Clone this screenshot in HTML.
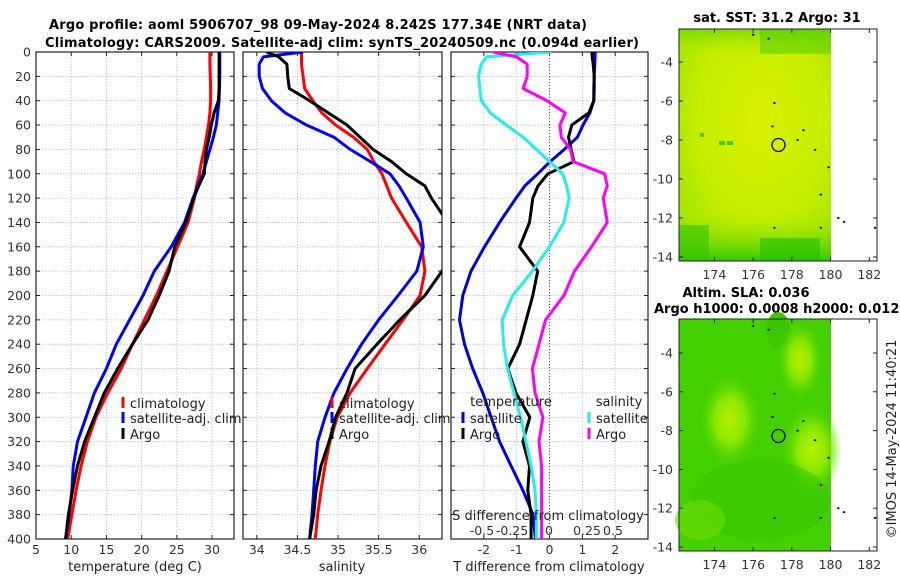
<!DOCTYPE html>
<html><head><meta charset="utf-8">
<style>
html,body{margin:0;padding:0;background:#fff;}
svg{display:block;font-family:"DejaVu Sans","Liberation Sans",sans-serif;}
.tick{font-size:12.5px;fill:#333;}
</style></head>
<body>
<svg id="chart" width="900" height="580" viewBox="0 0 900 580" xmlns="http://www.w3.org/2000/svg">
<defs>
<clipPath id="c1"><rect x="36" y="52" width="198" height="487"/></clipPath>
<clipPath id="c2"><rect x="243" y="52" width="199" height="487"/></clipPath>
<clipPath id="c3"><rect x="451" y="52" width="197" height="487"/></clipPath>
<radialGradient id="sstg" cx="0.55" cy="0.4" r="0.7">
<stop offset="0" stop-color="#d8f000"/><stop offset="0.6" stop-color="#c6ee00"/><stop offset="1" stop-color="#9ee400"/>
</radialGradient>
<linearGradient id="sstb" x1="0" y1="0" x2="0" y2="1">
<stop offset="0" stop-color="#6cd800" stop-opacity="0.8"/><stop offset="0.12" stop-color="#b8ec00" stop-opacity="0"/>
<stop offset="0.78" stop-color="#b8ec00" stop-opacity="0"/><stop offset="1" stop-color="#2cc800" stop-opacity="0.95"/>
</linearGradient>
<radialGradient id="sla1" cx="0.5" cy="0.5" r="0.5"><stop offset="0" stop-color="#b8f000"/><stop offset="0.5" stop-color="#8ae800"/><stop offset="1" stop-color="#5ad800" stop-opacity="0"/></radialGradient>
</defs>

<text x="318" y="29" text-anchor="middle" font-weight="bold" font-size="13" textLength="538">Argo profile: aoml 5906707_98 09-May-2024 8.242S 177.34E (NRT data)</text>
<text x="342" y="47" text-anchor="middle" font-weight="bold" font-size="13" textLength="594">Climatology: CARS2009. Satellite-adj clim: synTS_20240509.nc (0.094d earlier)</text>

<g id="panels"></g>

<g>
<text x="777" y="22" text-anchor="middle" font-weight="bold" font-size="13">sat. SST: 31.2 Argo: 31</text>
<rect x="679" y="29" width="152" height="232" fill="url(#sstg)"/>
<rect x="679" y="29" width="152" height="232" fill="url(#sstb)"/>
<rect x="679" y="225" width="30" height="36" fill="#34c400" opacity="0.6"/>
<rect x="760" y="238" width="60" height="23" fill="#22c000" opacity="0.6"/>
<rect x="760" y="29" width="71" height="25" fill="#4ccc00" opacity="0.5"/>
<rect x="719" y="141" width="6" height="4" fill="#44cc00"/><rect x="727" y="141" width="6" height="4" fill="#44cc00"/><rect x="700" y="133" width="4" height="4" fill="#44cc00"/>
<rect x="679" y="29" width="198" height="232" fill="none" stroke="#222" stroke-width="1"/>
<circle cx="778.5" cy="145" r="6.5" fill="none" stroke="#000" stroke-width="1.3"/>
<g id="islands1"></g>
</g>
<g>
<text x="746" y="297" text-anchor="middle" font-weight="bold" font-size="13">Altim. SLA: 0.036</text>
<text x="654" y="313" font-weight="bold" font-size="13">Argo h1000: 0.0008 h2000: 0.012</text>
<rect x="679" y="319" width="152" height="232" fill="#44d000"/>
<ellipse cx="778" cy="330" rx="12" ry="18" fill="#3cc800"/>
<ellipse cx="730" cy="420" rx="30" ry="45" fill="url(#sla1)"/>
<ellipse cx="800" cy="360" rx="22" ry="38" fill="url(#sla1)"/>
<ellipse cx="812" cy="450" rx="30" ry="45" fill="url(#sla1)"/>
<ellipse cx="760" cy="500" rx="70" ry="40" fill="#34c400" opacity="0.5"/>
<ellipse cx="700" cy="520" rx="25" ry="20" fill="#6cdc00" opacity="0.6"/>
<rect x="679" y="319" width="198" height="232" fill="none" stroke="#222" stroke-width="1"/>
<circle cx="778.5" cy="436" r="6.5" fill="none" stroke="#000" stroke-width="1.3"/>
<g id="islands2"></g>
</g>
<text transform="translate(896,439) rotate(-90)" text-anchor="middle" font-size="13" fill="#222">©IMOS 14-May-2024 11:40:21</text>
</svg>
<script>
const depths = [0,4,10,20,30,40,50,60,70,80,90,100,110,120,140,160,180,200,220,240,260,280,300,320,340,360,380,400];
const tempClim = [29.7,29.7,29.7,29.75,29.8,29.8,29.7,29.5,29.2,28.9,28.5,28.2,27.8,27.5,26.6,25.1,23.6,22.1,20.4,18.7,17.1,15.2,13.5,12.3,11.4,10.7,10.1,9.5];
const tempSat = [31.1,31.1,31.1,31.1,31.05,31.0,30.8,30.6,30.2,29.7,29.2,28.7,28.0,27.3,26.1,24.2,21.8,20.2,18.3,16.4,15.0,13.3,12.1,10.9,10.3,10.1,9.7,9.2];
const tempArgo = [31.0,31.0,31.0,31.0,31.0,30.9,30.3,29.9,29.6,29.2,29.0,28.9,28.1,27.4,26.3,24.7,23.9,22.5,20.9,18.7,16.6,14.7,13.3,11.9,10.9,10.2,9.6,9.2];
const salClim = [34.55,34.55,34.55,34.57,34.59,34.69,34.8,34.97,35.19,35.36,35.44,35.54,35.6,35.66,35.84,36.03,36.07,36.01,35.8,35.58,35.36,35.15,34.99,34.9,34.84,34.79,34.75,34.72];
const salSat = [34.57,34.08,34.03,34.03,34.07,34.18,34.35,34.61,34.95,35.15,35.4,35.64,35.75,35.84,36.01,36.05,35.97,35.74,35.5,35.29,35.11,34.95,34.84,34.75,34.72,34.7,34.68,34.65];
const salArgo = [34.12,34.27,34.37,34.38,34.4,34.65,34.88,35.11,35.27,35.43,35.66,35.84,36.07,36.15,36.35,36.45,36.28,36.07,35.76,35.48,35.21,35.11,34.97,34.89,34.79,34.73,34.7,34.65];
const tDiffSat = [1.39,1.39,1.38,1.36,1.35,1.35,1.23,1.02,0.85,0.45,0.02,-0.36,-0.75,-1.02,-1.52,-1.98,-2.39,-2.64,-2.74,-2.59,-2.34,-2.03,-1.78,-1.52,-1.17,-0.81,-0.5,-0.43];
const tDiffArgo = [1.29,1.3,1.33,1.36,1.36,1.35,1.2,0.68,0.58,0.66,0.74,-0.05,-0.35,-0.51,-0.61,-0.91,-0.36,-0.51,-0.71,-0.91,-1.27,-1.02,-0.6,-0.81,-0.61,-0.66,-0.56,-0.56];
const sDiffSat = [0.02,-0.48,-0.52,-0.54,-0.53,-0.52,-0.45,-0.33,-0.2,-0.1,0.0,0.1,0.13,0.15,0.11,0.0,-0.13,-0.28,-0.36,-0.35,-0.32,-0.27,-0.22,-0.18,-0.14,-0.11,-0.1,-0.1];
const sDiffArgo = [-0.43,-0.25,-0.17,-0.17,-0.2,-0.02,0.12,0.08,0.09,0.16,0.18,0.42,0.44,0.41,0.44,0.32,0.19,0.11,-0.03,-0.08,-0.13,-0.11,-0.05,-0.08,-0.06,-0.06,-0.06,-0.06];
const depthTicks = [0,20,40,60,80,100,120,140,160,180,200,220,240,260,280,300,320,340,360,380,400];
const tempTicks = [5,10,15,20,25,30];
const salTicks = [34,34.5,35,35.5,36];
const diffTicks = [-2,-1,0,1,2];
const sDiffTicks = [-0.5,-0.25,0,0.25,0.5];
const latTicks = [-4,-6,-8,-10,-12,-14];
const lonTicks = [174,176,178,180,182];

const NS='http://www.w3.org/2000/svg';
const root=document.getElementById('panels');
function mk(tag,attrs,parent){const e=document.createElementNS(NS,tag);for(const k in attrs)e.setAttribute(k,attrs[k]);(parent||root).appendChild(e);return e;}
const yTop=52, yBot=539;
function yD(d){return yTop+(d/400)*(yBot-yTop);}
function linScale(d0,d1,r0,r1){return v=>r0+(v-d0)/(d1-d0)*(r1-r0);}
const xT=linScale(5,33.12,36,234);
const xS=linScale(33.83,36.28,243,442);
const xDT=linScale(-3,3,451,648);
const xDS=linScale(-0.75,0.75,451,648);

function frame(x0,x1,ticks,xf,name){
  const g=mk('g',{});
  
  
  for(const t of ticks){const x=xf(t);mk('line',{x1:x,x2:x,y1:yTop,y2:yBot,stroke:'#b8bde8','stroke-width':0.8,'stroke-dasharray':'1.5,1.5'},g);}
  for(const d of depthTicks){const y=yD(d);mk('line',{x1:x0,x2:x1,y1:y,y2:y,stroke:'#b8bde8','stroke-width':0.8,'stroke-dasharray':'1.5,1.5'},g);
    mk('line',{x1:x0,x2:x0+4,y1:y,y2:y,stroke:'#222'},g);mk('line',{x1:x1-4,x2:x1,y1:y,y2:y,stroke:'#222'},g);}
  for(const t of ticks){const x=xf(t);mk('line',{x1:x,x2:x,y1:yBot,y2:yBot-4,stroke:'#222'},g);mk('line',{x1:x,x2:x,y1:yTop,y2:yTop+4,stroke:'#222'},g);}
  mk('rect',{x:x0,y:yTop,width:x1-x0,height:yBot-yTop,fill:'none',stroke:'#222','stroke-width':1.2},g);
  return g;
}
function series(vals,xf,color,clip,name,w){
  let d='';
  for(let i=0;i<depths.length;i++){d+=(i?'L':'M')+xf(vals[i]).toFixed(1)+','+yD(depths[i]).toFixed(1);}
  const p=mk('path',{d:d,fill:'none',stroke:color,'stroke-width':w||3,'stroke-linejoin':'round','clip-path':'url(#'+clip+')'});
  
  
}
function xLabels(ticks,xf,y,fmt,nm){
  for(const t of ticks){const e=mk('text',{x:xf(t),y:y,'text-anchor':'middle',class:'tick'});e.textContent=fmt?fmt(t):String(t);
    
    }
}
function txt(s,x,y,anchor,name,size,color){const e=mk('text',{x:x,y:y,'text-anchor':anchor||'start','font-size':size||13,fill:color||'#222'});e.textContent=s;
  
  return e;}
function legendMark(x,y,color,nm){const r=mk('rect',{x:x-1.5,y:y-6,width:3,height:11,fill:color});
  
  }

frame(36,234,tempTicks,xT,'temperature-panel');
for(const d of depthTicks){const e=mk('text',{x:31,y:yD(d)+4.5,'text-anchor':'end',class:'tick'});e.textContent=d;
  
  }
series(tempClim,xT,'#ff0000','c1','temp-climatology-line');
series(tempSat,xT,'#0000ff','c1','temp-satellite-line');
series(tempArgo,xT,'#000000','c1','temp-argo-line');
xLabels(tempTicks,xT,554,null,'temp-tick-label');
txt('temperature (deg C)',135,571,'middle','temp-axis-title');
legendMark(123,403,'#ff0000','legend-climatology-marker');txt('climatology',130,408,'start','legend-climatology');
legendMark(123,418,'#0000ff','legend-satellite-marker');txt('satellite-adj. clim',130,423,'start','legend-satellite');
legendMark(123,434,'#000000','legend-argo-marker');txt('Argo',130,439,'start','legend-argo');

frame(243,442,salTicks,xS,'salinity-panel');
series(salClim,xS,'#ff0000','c2','sal-climatology-line');
series(salSat,xS,'#0000ff','c2','sal-satellite-line');
series(salArgo,xS,'#000000','c2','sal-argo-line');
xLabels(salTicks,xS,554,null,'sal-tick-label');
txt('salinity',342,571,'middle','sal-axis-title');
legendMark(332,403,'#ff0000','legend2-climatology-marker');txt('climatology',339,408,'start','legend2-climatology');
legendMark(332,418,'#0000ff','legend2-satellite-marker');txt('satellite-adj. clim',339,423,'start','legend2-satellite');
legendMark(332,434,'#000000','legend2-argo-marker');txt('Argo',339,439,'start','legend2-argo');

frame(451,648,diffTicks,xDT,'difference-panel');
mk('line',{x1:xDT(0),x2:xDT(0),y1:yTop,y2:yBot,stroke:'#555','stroke-width':1,'stroke-dasharray':'1,2'});
series(tDiffSat,xDT,'#0000e0','c3','tdiff-satellite-line');
series(tDiffArgo,xDT,'#000000','c3','tdiff-argo-line');
series(sDiffSat,xDS,'#22eeee','c3','sdiff-satellite-line');
series(sDiffArgo,xDS,'#ff00ff','c3','sdiff-argo-line');
xLabels(diffTicks,xDT,554,t=>t<0?'-'+Math.abs(t):String(t),'tdiff-tick-label');
txt('T difference from climatology',549,571,'middle','tdiff-axis-title');
txt('S difference from climatology',548,520,'middle','sdiff-axis-title');
const sPos=[482,512,549,587,613];
sDiffTicks.forEach((t,i)=>{const e=mk('text',{x:sPos[i],y:535,'text-anchor':'middle',class:'tick'});e.textContent=String(t);
  
  });
txt('temperature',511,406,'middle','legend3-temperature-heading');
txt('salinity',619,406,'middle','legend3-salinity-heading');
legendMark(463,418,'#0000e0','legend3-tsat-marker');txt('satellite',470,423,'start','legend3-tsat');
legendMark(463,434,'#000000','legend3-targo-marker');txt('Argo',470,439,'start','legend3-targo');
legendMark(589,418,'#22eeee','legend3-ssat-marker');txt('satellite',596,423,'start','legend3-ssat');
legendMark(589,434,'#ff00ff','legend3-sargo-marker');txt('Argo',596,439,'start','legend3-sargo');

function mapAxes(top,latY,xLabY,gid){
  const g=document.getElementById(gid);
  const lon=linScale(172.17,182.4,679,877);
  latTicks.forEach(lat=>{const y=latY(lat);
    mk('line',{x1:679,x2:683,y1:y,y2:y,stroke:'#222'},g);mk('line',{x1:873,x2:877,y1:y,y2:y,stroke:'#222'},g);
    const e=mk('text',{x:673,y:y+4.5,'text-anchor':'end',class:'tick'},g);e.textContent=lat;
    
    });
  lonTicks.forEach(l=>{const x=lon(l);
    mk('line',{x1:x,x2:x,y1:top,y2:top+4,stroke:'#222'},g);mk('line',{x1:x,x2:x,y1:top+228,y2:top+232,stroke:'#222'},g);
    const e=mk('text',{x:x,y:xLabY,'text-anchor':'middle',class:'tick'},g);e.textContent=l;
    
    });
  const isl=[[176,-2.6],[176.8,-2.8],[177.1,-6.1],[177,-7.3],[178.3,-8.0],[178.6,-7.5],[179.2,-8.5],[179.9,-9.4],[179.5,-10.8],[177.1,-12.5],[179.5,-12.5],[180.4,-12.0],[180.7,-12.2],[182.3,-12.5]];
  isl.forEach(p=>{mk('ellipse',{cx:lon(p[0]),cy:latY(p[1]),rx:1.3,ry:1,fill:'#000'},g);});
}
mapAxes(29,lat=>62+(-4-lat)*19.5,279,'islands1');
mapAxes(319,lat=>353+(-4-lat)*19.4,569,'islands2');
</script>
</body></html>
